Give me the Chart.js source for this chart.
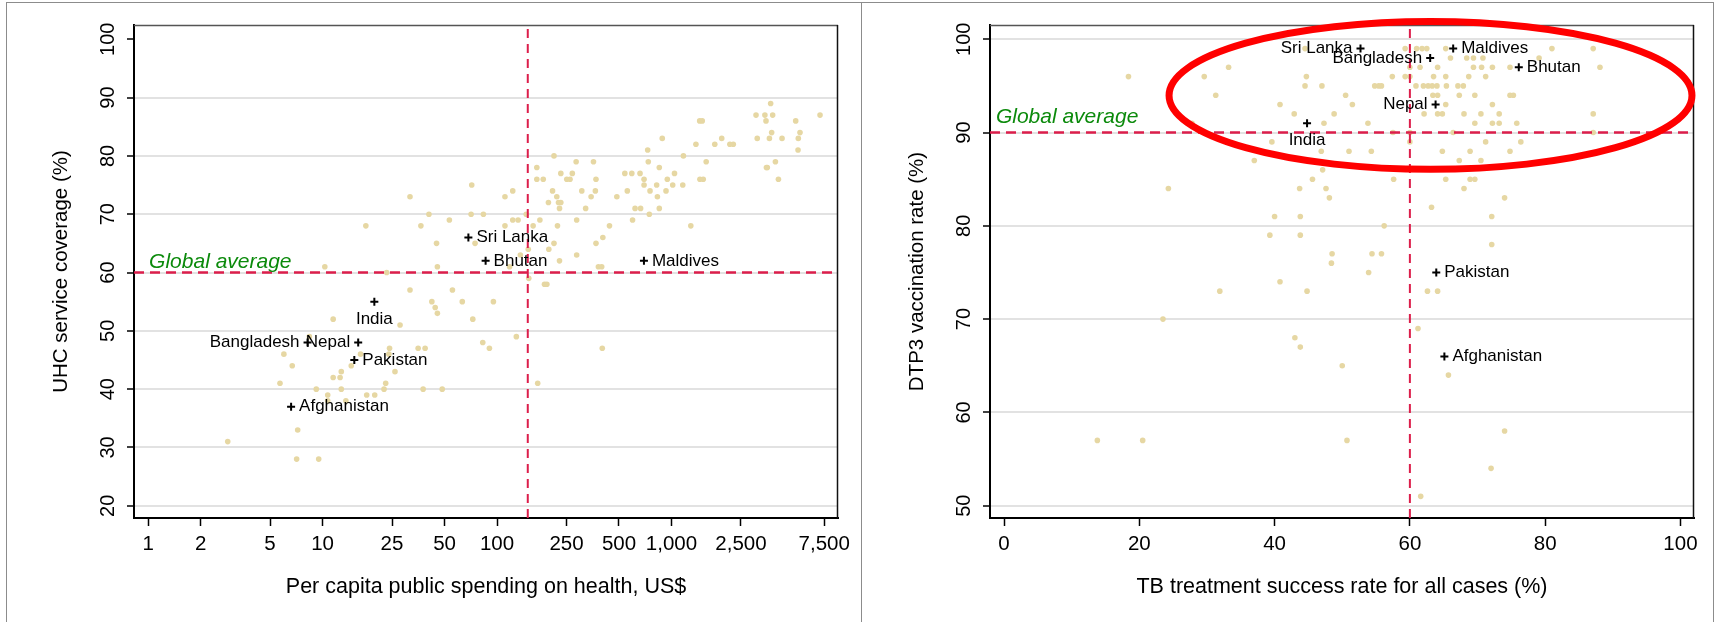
<!DOCTYPE html>
<html>
<head>
<meta charset="utf-8">
<script src="https://cdn.jsdelivr.net/npm/chart.js@4.4.1/dist/chart.umd.min.js"></script>
<style>
  body { margin: 0; background: #fff; width: 1716px; height: 622px; overflow: hidden; position: relative; }
  .frame { position: absolute; top: 2px; height: 660px; border: 1.5px solid #8c8c8c; border-bottom: none; box-sizing: border-box; }
  canvas { position: absolute; top: 0; }
</style>
</head>
<body>
<div class="frame" style="left:6px; width:856px;"></div>
<div class="frame" style="left:861px; width:853px;"></div>
<canvas id="uhc" width="860" height="622" style="left:0"></canvas>
<canvas id="dtp" width="860" height="622" style="left:856px"></canvas>
<script>
// left panel: per capita public spending on health (US$) vs UHC service coverage (%)
const spendAll = [3700, 3050, 3430, 3800, 3480, 7100, 5150, 1450, 1500, 3750, 5450, 3100, 3640, 4300, 5330, 885, 1940,
  1380, 1770, 2160, 2260, 5310, 730, 1170, 212, 3500, 3540, 3940, 4100, 284, 357, 736, 1580, 169, 851, 232, 270, 540,
  592, 660, 1040, 169, 184, 251, 262, 369, 696, 946, 1455, 1520, 696, 822, 1016, 1160, 71.6, 123, 208, 306, 366, 558,
  753, 930, 31.7, 111, 220, 346, 486, 830, 197, 225, 232, 228, 322, 618, 665, 851, 40.7, 71, 83.5, 147, 746, 17.7,
  36.6, 53.3, 123, 132, 176, 111, 161, 222, 286, 441, 598, 1290, 45, 74.8, 212, 369, 404, 198, 136, 151, 286, 228,
  118, 45.5, 381, 398, 23.3, 152, 187, 193, 31.7, 55.5, 42.3, 44.2, 45.5, 63.2, 95.3, 11.5, 27.8, 72.6, 129, 10.3,
  8.4, 6.0, 6.7, 16.5, 14.6, 24.2, 24, 35.3, 38.7, 82.8, 90.4, 401, 11.5, 12.6, 12.8, 26, 23, 5.7, 9.2, 12.8, 22.5,
  37.7, 48.5, 171, 10.7, 10.7, 13.6, 17.9, 19.9, 7.2, 2.86, 7.1, 9.5];
const uhcAll = [89, 87, 87, 87, 86, 87, 86, 86, 86, 84, 84, 83, 83, 83, 83, 83, 83,
  82, 82, 82, 82, 81, 81, 80, 80, 78, 78, 79, 76, 79, 79, 79, 79, 78, 78, 77, 77, 77,
  77, 77, 77, 76, 76, 76, 76, 76, 76, 76, 76, 76, 75, 75, 75, 75, 75, 74, 74, 74, 74, 74,
  74, 74, 73, 73, 73, 73, 73, 73, 72, 72, 72, 71, 71, 71, 71, 71, 70, 70, 70, 70, 70, 68,
  68, 69, 69, 69, 69, 68, 68, 68, 69, 68, 69, 68, 65, 65, 65, 65, 66, 64, 63, 64, 63, 62,
  61, 61, 61, 61, 60, 59, 58, 58, 57, 57, 55, 54, 53, 55, 55, 52, 51, 52, 49, 61,
  49, 46, 44, 46, 44, 47, 46, 47, 47, 48, 47, 47, 42, 42, 43, 43, 41, 41, 40, 40, 40,
  40, 40, 41, 39, 38, 38, 39, 39, 33, 31, 28, 28];

// right panel: TB treatment success rate (%) vs DTP3 vaccination rate (%)
const tbAll = [44.5, 59.3, 61, 61.8, 62.5, 65.3, 81, 87.1, 66, 68.4, 69.4, 70.8, 79.1, 33.2, 60, 61.5, 64.1, 69.4, 70.6,
  72.2, 74.8, 88.1, 18.4, 29.6, 44.7, 57.4, 59.3, 60, 63.5, 65.3, 68.7, 71.2, 44.5, 47, 54.8, 55.4, 55.8, 60.9, 62,
  62.7, 63.3, 64, 65.4, 67.1, 67.9, 31.3, 50.5, 63.4, 64.1, 67.3, 69.6, 74.8, 75.3, 40.8, 51.5, 65.3, 72.2, 42.9, 48.8,
  62.1, 64.1, 64.8, 68, 70.5, 73.2, 87.1, 27.8, 47.3, 53.8, 69.6, 72.2, 73.2, 75.8, 57.5, 60, 66.4, 87.1, 39.6, 60,
  71.2, 76.4, 46.9, 51, 54.3, 64.8, 68.9, 74.8, 37, 67.3, 70.5, 47.1, 45.6, 57.6, 65.3, 68.9, 69.6, 24.3, 43.7, 47.6,
  68, 48.1, 74, 63.2, 40, 43.8, 72.1, 56.2, 39.3, 43.8, 72.1, 48.5, 54.4, 55.8, 48.4, 53.9, 40.8, 31.9, 44.8, 62.6,
  64.1, 23.5, 61.2, 43, 43.8, 50, 65.7, 74, 13.8, 20.5, 50.7, 72, 61.6];
const dtpAll = [99, 99, 99, 99, 99, 99, 99, 99, 98, 98, 98, 98, 98, 97, 97, 97, 97, 97, 97,
  97, 97, 97, 96, 96, 96, 96, 96, 96, 96, 96, 96, 96, 95, 95, 95, 95, 95, 95, 95,
  95, 95, 95, 95, 95, 95, 94, 94, 94, 94, 94, 94, 94, 94, 93, 93, 93, 93, 92, 92,
  92, 92, 92, 92, 92, 92, 92, 91, 91, 91, 91, 91, 91, 91, 90, 90, 90, 90, 89, 89,
  89, 89, 88, 88, 88, 88, 88, 88, 87, 87, 87, 86, 85, 85, 85, 85, 85, 84, 84, 84,
  84, 83, 83, 82, 81, 81, 81, 80, 79, 79, 78, 77, 77, 77, 76, 75, 74, 73, 73, 73,
  73, 70, 69, 68, 67, 65, 64, 58, 57, 57, 57, 54, 51];

// highlighted South Asian countries
const countries = ['Sri Lanka', 'Bhutan', 'Maldives', 'India', 'Bangladesh', 'Nepal', 'Pakistan', 'Afghanistan'];
const countrySpend = [68.5, 86, 695, 19.8, 8.2, 16, 15.2, 6.6];
const countryUhc = [66, 62, 62, 55, 48, 48, 45, 37];
const countryTb = [52.7, 76.1, 66.4, 44.8, 63, 63.8, 63.9, 65.1];
const countryDtp = [99, 97, 99, 91, 98, 93, 75, 66];

// reference lines
const spendCut = 150, uhcAvg = 60;
const tbCut = 60, dtpAvg = 90;

// ticks
const spendTicks = [1, 2, 5, 10, 25, 50, 100, 250, 500, 1000, 2500, 7500];
const uhcTicks = [20, 30, 40, 50, 60, 70, 80, 90, 100];
const tbTicks = [0, 20, 40, 60, 80, 100];
const dtpTicks = [50, 60, 70, 80, 90, 100];

const FONT = "'Liberation Sans', Arial, sans-serif";
Chart.defaults.font.family = FONT;
Chart.defaults.color = '#000';

const DOT = '#e6d7a3';
const DASH = '#dc1e4b';

const annot = {
  id: 'annot',
  afterDraw(chart, args, o) {
    const ctx = chart.ctx, xs = chart.scales.x, ys = chart.scales.y, a = chart.chartArea;
    ctx.save();
    // top and right edges of the plot region
    ctx.lineWidth = 1.5;
    ctx.strokeStyle = '#555';
    ctx.beginPath(); ctx.moveTo(a.left, a.top + 0.5); ctx.lineTo(a.right, a.top + 0.5); ctx.stroke();
    ctx.strokeStyle = '#111';
    ctx.beginPath(); ctx.moveTo(a.right - 0.5, a.top); ctx.lineTo(a.right - 0.5, a.bottom); ctx.stroke();

    // country labels
    ctx.font = '17px ' + FONT;
    ctx.fillStyle = '#000';
    ctx.textBaseline = 'middle';
    chart.getDatasetMeta(0).data.forEach((pt, i) => {
      const side = o.sides[countries[i]];
      if (side === 'right') { ctx.textAlign = 'left'; ctx.fillText(countries[i], pt.x + 8, pt.y); }
      else if (side === 'left') { ctx.textAlign = 'right'; ctx.fillText(countries[i], pt.x - 8, pt.y); }
      else { ctx.textAlign = 'center'; ctx.fillText(countries[i], pt.x, pt.y + 17.5); }
    });

    // "Global average" label
    ctx.font = 'italic 21px ' + FONT;
    ctx.fillStyle = '#0b8a0b';
    ctx.textAlign = 'left';
    ctx.textBaseline = 'alphabetic';
    ctx.fillText('Global average', xs.getPixelForValue(o.avgLabel[0]), ys.getPixelForValue(o.avgLabel[1]));

    // highlight ellipse
    if (o.ellipse) {
      const e = o.ellipse;
      const cx = xs.getPixelForValue(e.c[0]), cy = ys.getPixelForValue(e.c[1]);
      const rx = Math.abs(xs.getPixelForValue(e.c[0] + e.r[0]) - cx);
      const ry = Math.abs(ys.getPixelForValue(e.c[1] + e.r[1]) - cy);
      ctx.strokeStyle = '#ff0000';
      ctx.lineWidth = 7;
      ctx.beginPath(); ctx.ellipse(cx, cy, rx, ry, 0, 0, Math.PI * 2); ctx.stroke();
    }
    ctx.restore();
  }
};

function makeChart(id, cfg) {
  const pts = cfg.xs.map((v, i) => ({ x: v, y: cfg.ys[i] }));
  const hl = cfg.hx.map((v, i) => ({ x: v, y: cfg.hy[i] }));
  const [x0, x1] = cfg.xRange, [y0, y1] = cfg.yRange;
  return new Chart(document.getElementById(id), {
    type: 'scatter',
    data: {
      datasets: [
        { data: hl, pointStyle: 'cross', pointRadius: 4, borderColor: '#000', borderWidth: 2, backgroundColor: '#000' },
        { type: 'line', data: [{ x: cfg.vline, y: y0 }, { x: cfg.vline, y: y1 }], borderColor: DASH, borderWidth: 2,
          borderDash: [9, 6], pointRadius: 0, fill: false },
        { type: 'line', data: [{ x: x0, y: cfg.hline }, { x: x1, y: cfg.hline }], borderColor: DASH, borderWidth: 2.5,
          borderDash: [10, 6], pointRadius: 0, fill: false },
        { data: pts, pointRadius: 2.8, backgroundColor: DOT, borderWidth: 0 }
      ]
    },
    options: {
      responsive: false,
      animation: false,
      events: [],
      devicePixelRatio: 1,
      layout: { padding: { left: 0, right: 22, top: 25, bottom: 0 } },
      plugins: {
        legend: { display: false },
        tooltip: { enabled: false },
        annot: { sides: cfg.sides, avgLabel: cfg.avgLabel, ellipse: cfg.ellipse }
      },
      scales: {
        x: {
          type: cfg.xType, min: x0, max: x1,
          afterBuildTicks: s => { s.ticks = cfg.xTicks.map(v => ({ value: v })); },
          afterFit: s => { s.height = 104; },
          ticks: { autoSkip: false, maxRotation: 0, padding: 6, font: { size: 20.5 }, color: '#000',
            callback: v => Number(v).toLocaleString('en-US') },
          grid: { drawOnChartArea: false, tickColor: '#000', tickLength: 8, tickWidth: 1.5 },
          border: { color: '#000', width: 2 },
          title: { display: true, text: cfg.xTitle, font: { size: 21.5 }, color: '#000', padding: { top: 0, bottom: 22 } }
        },
        y: {
          type: 'linear', min: y0, max: y1,
          afterBuildTicks: s => { s.ticks = cfg.yTicks.map(v => ({ value: v })); },
          afterFit: s => { s.width = 134; },
          ticks: { minRotation: 90, maxRotation: 90, crossAlign: 'center', padding: 2, font: { size: 20 }, color: '#000' },
          grid: {
            color: c => (c.tick && cfg.noGrid.includes(c.tick.value)) ? 'rgba(0,0,0,0)' : '#e2e2e2',
            lineWidth: 2, tickColor: '#000', tickLength: 7, tickWidth: 1.5
          },
          border: { color: '#000', width: 2 },
          title: { display: true, text: cfg.yTitle, font: { size: 20.5 }, color: '#000', padding: { top: 49, bottom: 0 } }
        }
      }
    },
    plugins: [annot]
  });
}

makeChart('uhc', {
  xs: spendAll, ys: uhcAll, hx: countrySpend, hy: countryUhc,
  xType: 'logarithmic', xRange: [0.83, 9000], yRange: [17.9, 102.45],
  xTicks: spendTicks, yTicks: uhcTicks, noGrid: [100],
  vline: spendCut, hline: uhcAvg,
  xTitle: 'Per capita public spending on health, US$',
  yTitle: 'UHC service coverage (%)',
  avgLabel: [1.013, 60.7],
  sides: { 'Sri Lanka': 'right', Bhutan: 'right', Maldives: 'right', India: 'below',
    Bangladesh: 'left', Nepal: 'left', Pakistan: 'right', Afghanistan: 'right' }
});

makeChart('dtp', {
  xs: tbAll, ys: dtpAll, hx: countryTb, hy: countryDtp,
  xType: 'linear', xRange: [-2.07, 102], yRange: [48.68, 101.53],
  xTicks: tbTicks, yTicks: dtpTicks, noGrid: [],
  vline: tbCut, hline: dtpAvg,
  xTitle: 'TB treatment success rate for all cases (%)',
  yTitle: 'DTP3 vaccination rate (%)',
  avgLabel: [-1.2, 91.07],
  ellipse: { c: [63.05, 93.98], r: [38.65, 7.92] },
  sides: { 'Sri Lanka': 'left', Bhutan: 'right', Maldives: 'right', India: 'below',
    Bangladesh: 'left', Nepal: 'left', Pakistan: 'right', Afghanistan: 'right' }
});
</script>
</body>
</html>
